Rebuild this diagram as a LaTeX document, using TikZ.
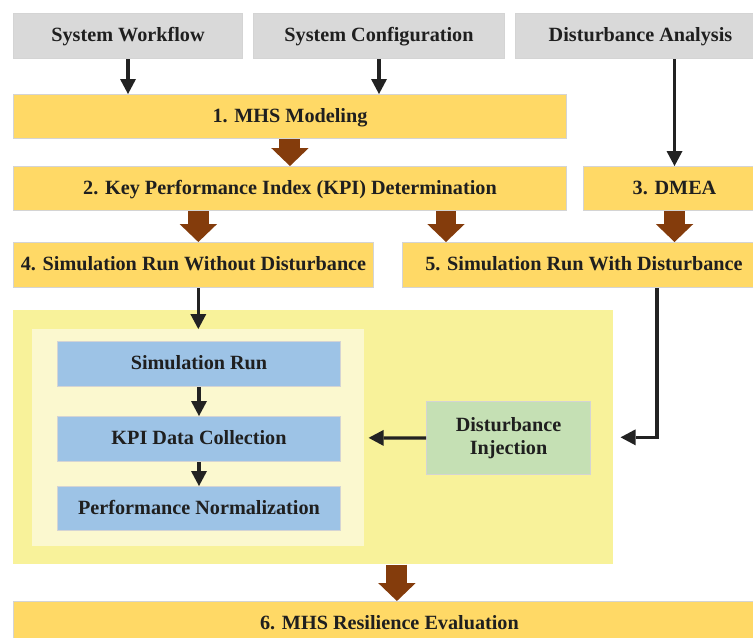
\documentclass[tikz,border=0pt]{standalone}
\usepackage{fontspec}
\setmainfont{Liberation Serif}
\usetikzlibrary{arrows.meta,positioning,calc}
\definecolor{inputgray}{HTML}{D9D9D9}
\definecolor{stepyellow}{HTML}{FFD966}
\definecolor{loopyellow}{HTML}{F8F29A}
\definecolor{panelyellow}{HTML}{FBF8CF}
\definecolor{taskblue}{HTML}{9DC3E6}
\definecolor{injgreen}{HTML}{C5E0B4}
\definecolor{flowbrown}{HTML}{843C0C}
\definecolor{linedark}{HTML}{222222}

\begin{document}
\begin{tikzpicture}[x=0.02cm, y=-0.02cm,
   font=\fontsize{11.5}{13}\selectfont\bfseries,
   box/.style={draw=black!17, line width=0.6pt, inner sep=0pt, align=center,
     text=black!88, anchor=north west},
   oneline/.style={box, text height=0.9em, text depth=0.24em},
   inbox/.style={oneline, fill=inputgray, minimum height=0.9cm},
   stepbox/.style={oneline, fill=stepyellow, minimum height=0.88cm},
   taskbox/.style={oneline, fill=taskblue, minimum width=5.66cm, minimum height=0.9cm},
   area/.style={inner sep=0pt, anchor=north west},
   flowline/.style={-{Triangle[width=0.32cm,length=0.3cm,line width=0pt]},
     draw=linedark, line width=0.065cm},
   bigarrow/.style={-{Triangle[width=0.75cm,length=0.36cm,line width=0pt]},
     draw=flowbrown, line width=0.42cm}]
  \useasboundingbox (0,0) rectangle (753,637);
  % inputs
  \node[inbox, minimum width=4.58cm] (wf) at (13,13) {System Workflow};
  \node[inbox, minimum width=5.02cm] (cfg) at (253,13) {System Configuration};
  \node[inbox, minimum width=5.0cm] (dist) at (515,13) {Disturbance Analysis};
  % main steps
  \node[stepbox, minimum width=11.06cm] (r1) at (13,94) {1. MHS Modeling};
  \node[stepbox, minimum width=11.06cm] (r2) at (13,166) {2. Key Performance Index (KPI) Determination};
  \node[stepbox, minimum width=3.64cm] (r3) at (583,166) {3. DMEA};
  \node[stepbox, minimum width=7.2cm, minimum height=0.9cm] (r4) at (13,242) {4. Simulation Run Without Disturbance};
  \node[stepbox, minimum width=7.26cm, minimum height=0.9cm] (r5) at (402,242) {5. Simulation Run With Disturbance};
  % simulation loop
  \node[area, fill=loopyellow, minimum width=12cm, minimum height=5.08cm] (loop) at (13,310) {};
  \node[area, fill=panelyellow, minimum width=6.64cm, minimum height=4.34cm] (panel) at (32,329) {};
  \node[taskbox] (sim) at (57,341) {Simulation Run};
  \node[taskbox] (kpi) at (57,416) {KPI Data Collection};
  \node[taskbox, minimum height=0.88cm] (norm) at (57,486) {Performance Normalization};
  \node[box, fill=injgreen, minimum width=3.28cm, minimum height=1.46cm] (inj) at (426,401) {Disturbance\\Injection};
  \node[stepbox, minimum width=15.04cm, minimum height=0.9cm] (r6) at (13,601) {6. MHS Resilience Evaluation};

  \draw[flowline] (wf.south) -- (wf.south |- r1.north);
  \draw[flowline] (cfg.south) -- (cfg.south |- r1.north);
  \draw[flowline] (dist.south -| r3.north) -- (r3.north);
  \draw[bigarrow] (r1.south) -- (r2.north);
  \draw[bigarrow] (r2.south -| panel.north) -- (r4.north -| panel.north);
  \draw[bigarrow] ([xshift=0.88cm]r2.south -| r5.north west) -- ([xshift=0.88cm]r5.north west);
  \draw[bigarrow] (r3.south) -- (r3.south |- r5.north);
  \draw[flowline] (r4.south -| panel.north) -- (panel.north);
  \draw[flowline] (sim) -- (kpi);
  \draw[flowline] (kpi) -- (norm);
  \draw[flowline] (inj.west) -- ([xshift=0.08cm]panel.east);
  \draw[flowline] ([xshift=5.1cm]r5.south west) |- ([xshift=0.14cm]loop.east);
  \draw[bigarrow] ([xshift=7.68cm]loop.south west) -- ([xshift=7.68cm]r6.north west);
\end{tikzpicture}
\end{document}
